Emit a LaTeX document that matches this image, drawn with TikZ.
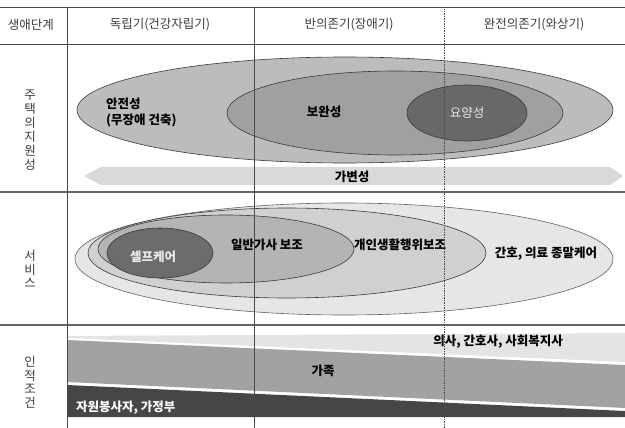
\documentclass[tikz,border=0pt]{standalone}
\usepackage{fontspec}
\setmainfont{Noto Sans CJK KR}
\usetikzlibrary{shapes.geometric}
\definecolor{gridc}{HTML}{4A4A4A}
\definecolor{hdrc}{HTML}{3C3C3C}
\definecolor{aOut}{HTML}{BCBCBC}
\definecolor{aMid}{HTML}{A0A0A0}
\definecolor{aIn}{HTML}{686868}
\definecolor{sOut}{HTML}{E6E6E6}
\definecolor{sSec}{HTML}{D0D0D0}
\definecolor{sThr}{HTML}{B4B4B4}
\definecolor{sIn}{HTML}{6C6C6C}
\definecolor{arrc}{HTML}{D9D9D9}
\definecolor{bLight}{HTML}{E4E4E4}
\definecolor{bMid}{HTML}{A2A2A2}
\definecolor{bDark}{HTML}{464646}
\definecolor{edgec}{HTML}{3A3A3A}
\tikzset{
  hdr/.style={font=\fontsize{12.5}{14}\selectfont, text=hdrc, inner sep=0pt},
  side/.style={font=\fontsize{12.5}{13.5}\selectfont, text=hdrc, inner sep=0pt, align=center},
  lbl/.style={font=\fontsize{12.5}{16}\selectfont\bfseries, text=black, inner sep=0pt},
  wlbl/.style={font=\fontsize{12.5}{16}\selectfont, text=white!92!black, inner sep=0pt},
  blob/.style={draw=edgec, line width=0.6pt},
  gridline/.style={draw=gridc, line width=0.7pt},
  secline/.style={draw=gridc!85, line width=1.4pt},
}
\begin{document}
\begin{tikzpicture}[x=1pt,y=-1pt]
\useasboundingbox (0,0) rectangle (625,428);
% ---- Section 1: housing support ----
\path[blob, fill=aOut] (345,110) ellipse [x radius=268, y radius=53];
\path[blob, fill=aMid] (395,113) ellipse [x radius=168, y radius=42];
\path[blob, fill=aIn]  (467,113) ellipse [x radius=60, y radius=28];
\node[lbl, align=left, anchor=west] (safe) at (106,113) {안전성\\(무장애 건축)};
\node[lbl] (comp) at (324,112) {보완성};
\node[wlbl] (care) at (467,113) {요양성};
% double arrow
\fill[arrc] (84,176) -- (101,167) -- (610,167) -- (623,176) -- (610,185) -- (101,185) -- cycle;
\node[lbl] (var) at (352,177) {가변성};
% ---- Section 2: services ----
\path[draw=edgec!80, line width=0.6pt, fill=sOut] (344,259) ellipse [x radius=269, y radius=56];
\path[blob, fill=sSec] (287,253) ellipse [x radius=199, y radius=45];
\path[blob, fill=sThr] (226,249) ellipse [x radius=128, y radius=34];
\path[blob, fill=sIn]  (160,253) ellipse [x radius=53, y radius=25];
\node[wlbl, font=\fontsize{12.5}{16}\selectfont\bfseries] (self) at (153,257) {셀프케어};
\node[lbl] (house) at (267,245) {일반가사 보조};
\node[lbl] (pers) at (400,245) {개인생활행위보조};
\node[lbl] (nurse) at (546,254) {간호, 의료 종말케어};
% ---- Section 3: human conditions ----
\fill[bLight] (67,336) -- (625,333) -- (625,362) -- (67,338) -- cycle;
\fill[bMid] (67,340) -- (625,365) -- (625,408) -- (67,382) -- cycle;
\fill[bDark] (67,385) -- (625,411) -- (625,417) -- (67,417) -- cycle;
\node[lbl] (doc) at (498,342) {의사, 간호사, 사회복지사};
\node[lbl] (fam) at (323,371) {가족};
\node[lbl, text=white, anchor=west] (vol) at (76,408) {자원봉사자, 가정부};
% ---- grid ----
\draw[gridline] (0,7.5) -- (625,7.5);
\draw[gridline] (0,44) -- (625,44);
\draw[secline] (0,192) -- (625,192);
\draw[secline] (0,325) -- (625,325);
\draw[gridline] (67,7.5) -- (67,428);
\draw[gridline] (254,7.5) -- (254,428);
\draw[draw=gridc, line width=0.7pt, densely dotted] (444,7.5) -- (444,428);
% ---- header ----
\node[hdr] (stage) at (31,25) {생애단계};
\node[hdr] (h1) at (160,25) {독립기(건강자립기)};
\node[hdr] (h2) at (349,25) {반의존기(장애기)};
\node[hdr] (h3) at (534,25) {완전의존기(와상기)};
% ---- side labels ----
\node[side, font=\fontsize{12.5}{14}\selectfont] (s1) at (30,130) {주\\택\\의\\지\\원\\성};
\node[side] (s2) at (30,269) {서\\비\\스};
\node[side] (s3) at (30,382) {인\\적\\조\\건};
\end{tikzpicture}
\end{document}
